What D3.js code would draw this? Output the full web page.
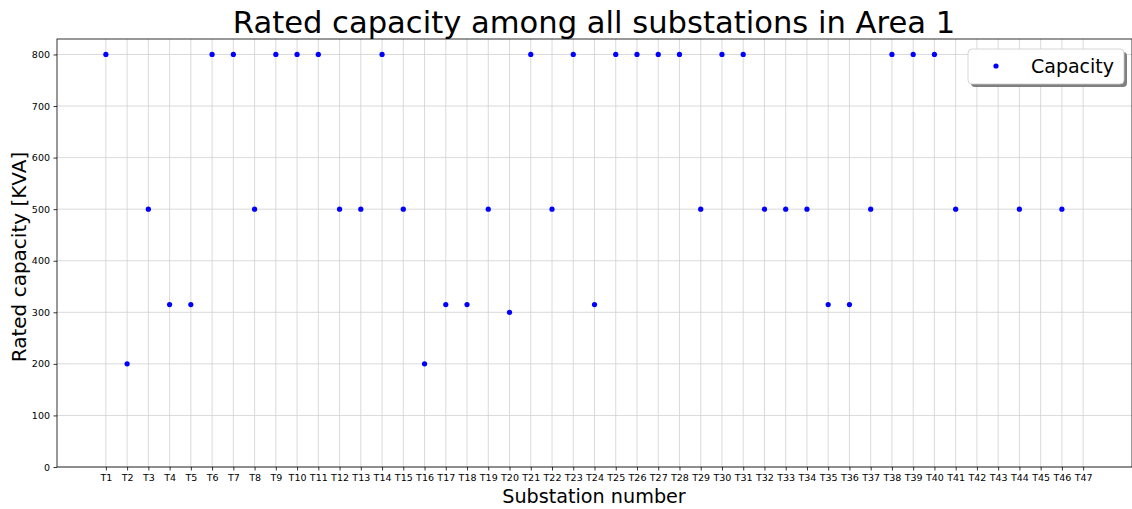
<!DOCTYPE html>
<html>
<head>
<meta charset="utf-8">
<script src="https://cdn.jsdelivr.net/npm/d3@7"></script>
<style>
  body { margin: 0; background: #fff; }
  svg { font-family: "DejaVu Sans", sans-serif; }
</style>
</head>
<body>
<script>
// substation names T1..T47
var substations = [];
for (var i = 1; i <= 47; i++) substations.push("T" + i);

// rated capacity in KVA (null = not visible, hidden behind legend)
var capacity = [800, 200, 500, 315, 315, 800, 800, 500, 800, 800,
                800, 500, 500, 800, 500, 200, 315, 315, 500, 300,
                800, 500, 800, 315, 800, 800, 800, 800, 500, 800,
                800, 500, 500, 500, 315, 315, 500, 800, 800, 800,
                500, null, null, 500, null, 500, null];

var yTicks = [0, 100, 200, 300, 400, 500, 600, 700, 800];

var width = 1132, height = 509;
var plotL = 57, plotR = 1132, plotT = 39, plotB = 467;

var svg = d3.select("body").append("svg")
  .attr("width", width)
  .attr("height", height);

// categorical axis with matplotlib style 5% margins
var x = d3.scaleLinear()
  .domain([-2.3, substations.length - 1 + 2.3])
  .range([plotL, plotR]);
var y = d3.scaleLinear()
  .domain([0, 830])
  .range([plotB, plotT]);

// grid
svg.append("g").selectAll("line")
  .data(substations)
  .join("line")
  .attr("x1", function(d, i) { return x(i); })
  .attr("x2", function(d, i) { return x(i); })
  .attr("y1", plotT).attr("y2", plotB)
  .attr("stroke", "#d0d0d0").attr("stroke-width", 0.8);
svg.append("g").selectAll("line")
  .data(yTicks)
  .join("line")
  .attr("x1", plotL).attr("x2", plotR)
  .attr("y1", function(d) { return y(d); })
  .attr("y2", function(d) { return y(d); })
  .attr("stroke", "#d0d0d0").attr("stroke-width", 0.8);

// axes
var xAxis = d3.axisBottom(x)
  .tickValues(d3.range(substations.length))
  .tickFormat(function(i) { return substations[i]; })
  .tickSize(3.5).tickPadding(3.5).tickSizeOuter(0);
var gx = svg.append("g")
  .attr("transform", "translate(0," + plotB + ")")
  .call(xAxis);

var yAxis = d3.axisLeft(y)
  .tickValues(yTicks)
  .tickSize(3.5).tickPadding(3.5).tickSizeOuter(0);
var gy = svg.append("g")
  .attr("transform", "translate(" + plotL + ",0)")
  .call(yAxis);

[gx, gy].forEach(function(g) {
  g.select(".domain").remove();
  g.selectAll("text").attr("font-size", 9.5).attr("fill", "#000")
    .attr("font-family", "DejaVu Sans");
  g.selectAll("line").attr("stroke", "#000").attr("stroke-width", 0.8);
});

// frame
svg.append("rect")
  .attr("x", plotL).attr("y", plotT)
  .attr("width", plotR - plotL).attr("height", plotB - plotT)
  .attr("fill", "none").attr("stroke", "#000").attr("stroke-width", 0.8);

// points
svg.append("g").selectAll("circle")
  .data(capacity.map(function(v, i) { return {i: i, v: v}; })
    .filter(function(d) { return d.v != null; }))
  .join("circle")
  .attr("cx", function(d) { return x(d.i); })
  .attr("cy", function(d) { return y(d.v); })
  .attr("r", 2.6)
  .attr("fill", "#0000ff");

// title & labels
svg.append("text")
  .attr("x", 594).attr("y", 33)
  .attr("text-anchor", "middle")
  .attr("font-size", 30.6)
  .text("Rated capacity among all substations in Area 1");

svg.append("text")
  .attr("x", 594).attr("y", 502.5)
  .attr("text-anchor", "middle")
  .attr("font-size", 19.2)
  .text("Substation number");

svg.append("text")
  .attr("transform", "translate(25.5,257) rotate(-90)")
  .attr("text-anchor", "middle")
  .attr("font-size", 20)
  .text("Rated capacity [KVA]");

// legend with shadow
var lg = svg.append("g").attr("transform", "translate(968,49)");
lg.append("rect")
  .attr("x", 3).attr("y", 3)
  .attr("width", 156).attr("height", 35)
  .attr("rx", 4)
  .attr("fill", "#808080");
lg.append("rect")
  .attr("width", 156).attr("height", 35)
  .attr("rx", 4)
  .attr("fill", "#fff")
  .attr("stroke", "#cccccc").attr("stroke-width", 0.8);
lg.append("circle")
  .attr("cx", 28).attr("cy", 17)
  .attr("r", 2.6).attr("fill", "#0000ff");
lg.append("text")
  .attr("x", 63).attr("y", 24)
  .attr("font-size", 19)
  .text("Capacity");
</script>
</body>
</html>
